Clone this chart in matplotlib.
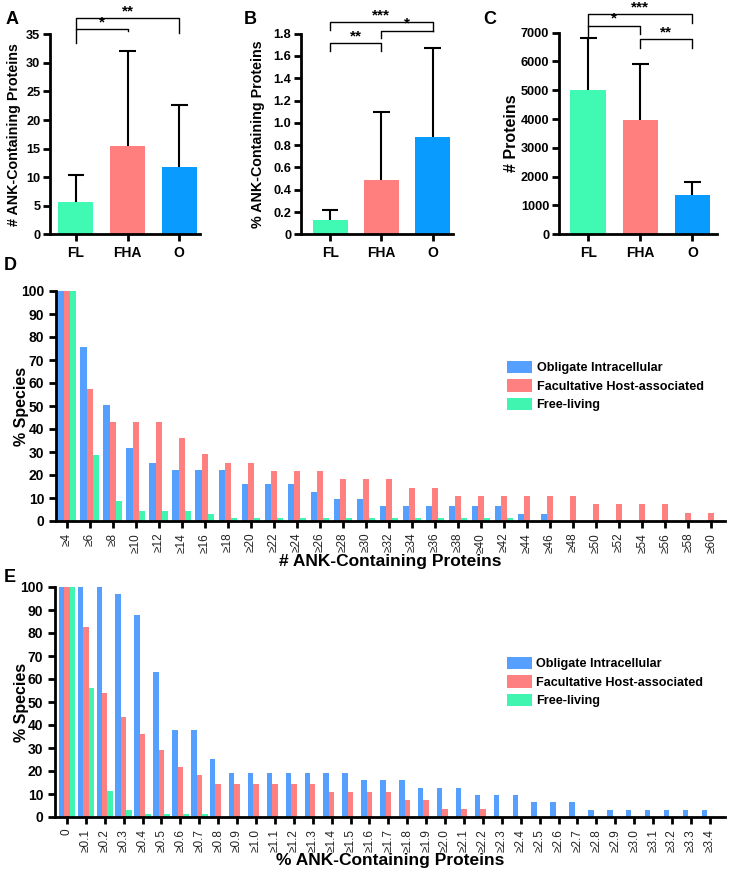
import matplotlib
matplotlib.use("Agg")
import matplotlib.pyplot as plt
import numpy as np

plt.rcParams['font.family'] = ['Liberation Sans', 'DejaVu Sans']
plt.rcParams['font.weight'] = 'bold'

# panels A-C: means and upper SD
groups = ["FL", "FHA", "O"]
ank_mean = [5.7, 15.4, 11.8]
ank_err = [4.7, 16.6, 10.9]
pct_mean = [0.125, 0.49, 0.875]
pct_err = [0.095, 0.61, 0.795]
prot_mean = [5000, 3970, 1370]
prot_err = [1830, 1960, 440]

# panel D: % species with >= n ANK proteins
d_labels = ["\u2265%d" % n for n in range(4, 61, 2)]
d_oblig = [100, 75.5, 50.5, 31.8, 25.4, 22.2, 22.2, 22.2, 15.9, 15.9, 15.9, 12.8, 9.6, 9.6,
           6.4, 6.4, 6.4, 6.4, 6.4, 6.4, 3.2, 3.2, 0, 0, 0, 0, 0, 0, 0]
d_facult = [100, 57.5, 43.2, 43.2, 43.2, 36.2, 29.0, 25.4, 25.4, 21.8, 21.8, 21.8, 18.2, 18.2,
            18.2, 14.5, 14.5, 10.9, 10.9, 10.9, 10.9, 10.9, 10.9, 7.3, 7.3, 7.3, 7.3, 3.6, 3.6]
d_free = [100, 28.8, 8.5, 4.4, 4.4, 4.4, 2.9, 1.5, 1.5, 1.5, 1.5, 1.5, 1.5, 1.5,
          1.5, 1.5, 1.5, 1.5, 1.5, 1.5, 0, 0, 0, 0, 0, 0, 0, 0, 0]

# panel E: % species with >= x % ANK proteins
e_labels = ["0"] + ["\u2265%.1f" % (i / 10) for i in range(1, 35)]
e_oblig = [100, 100, 100, 97, 88, 63, 38, 38, 25.4, 19.2, 19.2, 19.2, 19.2, 19.2, 19.2, 19.2,
           16, 16, 16, 12.8, 12.8, 12.8, 9.6, 9.6, 9.6, 6.4, 6.4, 6.4,
           3.2, 3.2, 3.2, 3.2, 3.2, 3.2, 3.2]
e_facult = [100, 82.6, 54, 43.5, 36.2, 29, 21.8, 18.2, 14.5, 14.5, 14.5, 14.5, 14.5, 14.5, 10.9, 10.9,
            10.9, 10.9, 7.3, 7.3, 3.6, 3.6, 3.6, 0, 0, 0, 0, 0,
            0, 0, 0, 0, 0, 0, 0]
e_free = [100, 56, 11.2, 3, 1.5, 1.5, 1.5, 1.5] + [0] * 27

c_fl, c_fha, c_o = "#40FAB4", "#FF7F7F", "#0A9BFF"
c_ob2, c_fa2, c_fr2 = "#559FFF", "#FF8080", "#40F5B0"

W, H = 729, 875
fig = plt.figure(figsize=(W / 100, H / 100), dpi=100)


def ax_px(l, r, t, b):
    return fig.add_axes([l / W, 1 - b / H, (r - l) / W, (b - t) / H])


def style(ax):
    for s in ["top", "right"]:
        ax.spines[s].set_visible(False)
    for s in ["left", "bottom"]:
        ax.spines[s].set_linewidth(2)
    ax.tick_params(width=2, length=5, labelsize=10)
    for t in ax.get_yticklabels():
        t.set_fontweight("bold")


def bracket(ax, x1, x2, y, y1, y2, label):
    ax.plot([x1, x1, x2, x2], [y1, y, y, y2], color="black", lw=1, clip_on=False)
    ax.text((x1 + x2) / 2, y, label, ha="center", va="bottom", fontsize=11, fontweight="bold")


def small_bars(ax, means, errs, ylim, yticks, ylabel, xlim, label_x, label_size):
    x = np.arange(3)
    ax.bar(x, means, width=0.68, color=[c_fl, c_fha, c_o])
    tops = np.array(means) + np.array(errs)
    ax.vlines(x, means, tops, color="black", lw=1.5)
    ax.hlines(tops, x - 0.16, x + 0.16, color="black", lw=1.5)
    ax.set_xlim(*xlim)
    ax.set_ylim(*ylim)
    ax.set_yticks(yticks)
    ax.set_xticks(x)
    ax.set_xticklabels(groups, fontsize=13, fontweight="bold")
    ax.set_ylabel(ylabel, fontsize=label_size, fontweight="bold")
    ax.yaxis.set_label_coords(label_x, 0.5)
    style(ax)
    ax.tick_params(axis="y", labelsize=9.2, pad=2)


# A
axA = ax_px(50, 200, 34.3, 234.3)
small_bars(axA, ank_mean, ank_err, (0, 35), range(0, 36, 5), "# ANK-Containing Proteins",
           (-0.5, 2.4), -0.19, 10.3)
bracket(axA, 0, 1, 35.9, 33.4, 35.5, "*")
bracket(axA, 0, 2, 37.8, 35.9, 35.2, "**")

# B
axB = ax_px(301, 453, 33.7, 234.3)
small_bars(axB, pct_mean, pct_err, (0, 1.8), np.arange(0, 1.81, 0.2), "% ANK-Containing Proteins",
           (-0.57, 2.4), -0.235, 10.3)
axB.set_yticklabels(["0"] + ["%.1f" % v for v in np.arange(0.2, 1.81, 0.2)])
for t in axB.get_yticklabels():
    t.set_fontweight("bold")
bracket(axB, 0, 1, 1.716, 1.641, 1.641, "**")
bracket(axB, 0, 2, 1.905, 1.836, 1.821, "***")
bracket(axB, 1, 2, 1.827, 1.761, 1.827, "*")

# C
axC = ax_px(559, 717, 32.7, 234.3)
small_bars(axC, prot_mean, prot_err, (0, 7000), range(0, 7001, 1000), "# Proteins",
           (-0.56, 2.47), -0.255, 11.5)
bracket(axC, 0, 2, 7636, 6830, 7324, "***")
bracket(axC, 0, 1, 7240, 7240, 6942, "*")
bracket(axC, 1, 2, 6779, 6477, 6477, "**")

for lab, (px, py) in [("A", (6, 20)), ("B", (244, 20)), ("C", (483, 20))]:
    fig.text(px / W, 1 - py / H, lab, fontsize=13, fontweight="bold", va="center")


def dist_panel(ax, labels, ob, fa, fr, bw, xlim, xlabel, label_x, leg_y):
    x = np.arange(len(labels))
    ax.bar(x - bw, ob, width=bw, color=c_ob2, label="Obligate Intracellular")
    ax.bar(x, fa, width=bw, color=c_fa2, label="Facultative Host-associated")
    ax.bar(x + bw, fr, width=bw, color=c_fr2, label="Free-living")
    ax.set_xlim(*xlim)
    ax.set_ylim(0, 100)
    ax.set_yticks(range(0, 101, 10))
    ax.set_xticks(x)
    ax.set_xticklabels(labels, rotation=90, fontsize=8, fontweight="normal", color="#222222")
    ax.set_ylabel("% Species", fontsize=11.5, fontweight="bold")
    ax.yaxis.set_label_coords(label_x, 0.5)
    ax.set_xlabel(xlabel, fontsize=12.5, fontweight="bold", labelpad=1)
    style(ax)
    ax.tick_params(axis="x", labelsize=8.5, length=5)
    ax.legend(loc="upper left", bbox_to_anchor=(0.657, leg_y), frameon=False, fontsize=9.1,
              handlelength=2.0, handleheight=1.1, handletextpad=0.35, labelspacing=0.4)


axD = ax_px(56, 725, 291, 521)
dist_panel(axD, d_labels, d_oblig, d_facult, d_free, 0.27, (-0.465, 28.6),
           "# ANK-Containing Proteins", -0.04, 0.745)
fig.text(4 / W, 1 - 265 / H, "D", fontsize=13, fontweight="bold", va="center")

axE = ax_px(55, 725, 587, 817)
dist_panel(axE, e_labels, e_oblig, e_facult, e_free, 0.29, (-0.63, 34.8),
           "% ANK-Containing Proteins", -0.039, 0.745)
fig.text(4 / W, 1 - 577 / H, "E", fontsize=13, fontweight="bold", va="center")

fig.savefig("out.png", dpi=100)
